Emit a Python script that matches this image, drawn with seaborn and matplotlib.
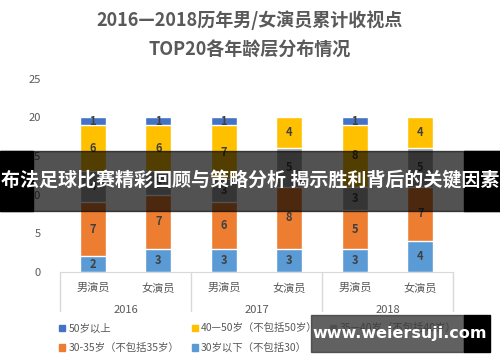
import matplotlib
matplotlib.use("Agg")
import matplotlib.pyplot as plt
from matplotlib.patches import Rectangle, Patch
import pandas as pd
import seaborn as sns

# data, bottom layer first
years = ["2016", "2017", "2018"]
genders = ["男演员", "女演员"]
groups = ["30岁以下（不包括30）", "30-35岁（不包括35岁）", "35—40岁（不包括40岁）",
          "40—50岁（不包括50岁）", "50岁以上"]
under30 = [2, 3, 3, 3, 3, 4]
age30_35 = [7, 7, 6, 8, 5, 7]
age35_40 = [4, 3, 3, 5, 3, 5]
age40_50 = [6, 6, 7, 4, 8, 4]
over50 = [1, 1, 1, 0, 1, 0]
colors = ["#5B9BD5", "#ED7D31", "#A5A5A5", "#FFC000", "#4472C4"]

layers = [under30, age30_35, age35_40, age40_50, over50]
bars = [y + g for y in years for g in genders]

df = pd.DataFrame({"bar": bars})
cum = [0] * len(bars)
for name, vals in zip(groups, layers):
    cum = [c + v for c, v in zip(cum, vals)]
    df[name] = cum

sns.set_style("white")
plt.rcParams["font.family"] = ["Noto Sans CJK SC", "DejaVu Sans"]

fig = plt.figure(figsize=(5, 3.62), dpi=100)
ax = fig.add_axes([0.12, 0.249, 0.786, 0.534])

# stacked look: draw cumulative totals from the top layer down
for name, c in reversed(list(zip(groups, colors))):
    sns.barplot(data=df, x="bar", y=name, color=c, saturation=1, width=0.4,
                errorbar=None, order=bars, ax=ax)

for i in range(len(bars)):
    base = 0
    for vals in layers:
        v = vals[i]
        if v:
            ax.text(i, base + v / 2, str(v), ha="center", va="center",
                    fontsize=8, color="#404040", fontweight="bold")
        base += v

ax.set_ylim(0, 25)
ax.set_xlim(-0.5, 5.5)
ax.set_yticks([0, 5, 10, 15, 20, 25])
ax.set_xlabel("")
ax.set_ylabel("")
ax.set_xticks([])
ax.tick_params(axis="y", labelsize=8, labelcolor="#595959", length=0, pad=14)
for s in ["top", "right", "left"]:
    ax.spines[s].set_visible(False)
ax.spines["bottom"].set_color("#d9d9d9")

# two-level category axis
tr = ax.get_xaxis_transform()
for x in [-0.5, 1.5, 3.5, 5.5]:
    ax.plot([x, x], [0, -0.2], transform=tr, color="#d9d9d9", lw=1, clip_on=False)
for i, b in enumerate(bars):
    ax.text(i, -0.085, genders[i % 2], transform=tr, ha="center", va="center",
            fontsize=8, color="#595959")
for j, y in enumerate(years):
    ax.text(2 * j + 0.5, -0.195, y, transform=tr, ha="center", va="center",
            fontsize=8, color="#595959")

fig.text(0.5, 0.945, "2016—2018历年男/女演员累计收视点", ha="center", va="center",
         fontsize=13, fontweight="bold", color="#595959")
fig.text(0.5, 0.862, "TOP20各年龄层分布情况", ha="center", va="center",
         fontsize=13, fontweight="bold", color="#595959")

order = [4, 1, 3, 0, 2]
handles = [Patch(color=colors[k], label=groups[k]) for k in order]
fig.legend(handles=handles, ncol=3, loc="upper left", bbox_to_anchor=(0.118, 0.107),
           frameon=False, fontsize=7.5, handlelength=0.6, handleheight=0.6,
           handletextpad=0.3, columnspacing=1.2, labelspacing=0.9,
           labelcolor="#595959", borderaxespad=0, borderpad=0)

# overlay banner
fig.patches.append(Rectangle((0, 0.417), 1, 0.166, transform=fig.transFigure,
                             color="black", alpha=0.68, zorder=10))
fig.patches.append(Rectangle((0, 0.417), 0.066, 0.166, transform=fig.transFigure,
                             color="black", zorder=10))
fig.patches.append(Rectangle((0.928, 0.417), 0.072, 0.166, transform=fig.transFigure,
                             color="black", zorder=10))
fig.text(0.5, 0.5, "布法足球比赛精彩回顾与策略分析 揭示胜利背后的关键因素", ha="center",
         va="center", fontsize=13.7, fontweight="bold", color="white", zorder=11)

# site watermark
fig.patches.append(Rectangle((0.622, 0.028), 0.306, 0.102, transform=fig.transFigure,
                             color="#3a3a3a", alpha=0.8, zorder=10))
fig.patches.append(Rectangle((0.928, 0.028), 0.052, 0.102, transform=fig.transFigure,
                             color="black", zorder=10))
fig.text(0.8, 0.078, "www.weiersuji.com", ha="center", va="center",
         fontsize=11.5, fontweight="bold", color="white", zorder=11,
         family=["DejaVu Sans"])

fig.savefig("out.png", dpi=100)
